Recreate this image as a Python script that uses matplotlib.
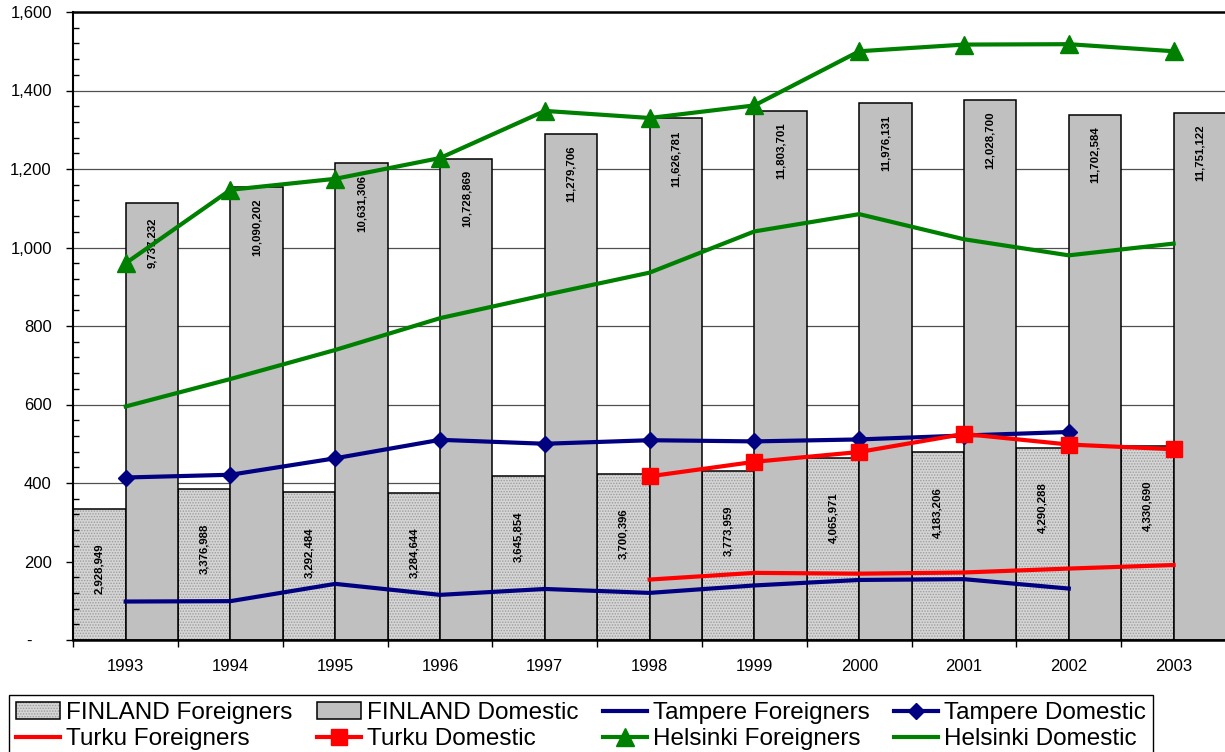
import numpy as np
import matplotlib
matplotlib.use("Agg")
import matplotlib.pyplot as plt
from matplotlib import font_manager
from matplotlib.ticker import MultipleLocator, FuncFormatter

nan = np.nan

# ---- data -------------------------------------------------------------
years = ["1993", "1994", "1995", "1996", "1997", "1998",
         "1999", "2000", "2001", "2002", "2003"]

finland_foreigners = [2928949, 3376988, 3292484, 3284644, 3645854, 3700396,
                      3773959, 4065971, 4183206, 4290288, 4330690]
finland_domestic = [9737232, 10090202, 10631306, 10728869, 11279706, 11626781,
                    11803701, 11976131, 12028700, 11702584, 11751122]

tampere_foreigners = [98, 99, 143, 115, 130, 120, 139, 153, 155, 131, nan]
tampere_domestic = [414, 421, 463, 510, 500, 509, 506, 511, 521, 530, nan]
turku_foreigners = [nan, nan, nan, nan, nan, 154, 171, 169, 172, 182, 191]
turku_domestic = [nan, nan, nan, nan, nan, 417, 454, 479, 525, 498, 486]
helsinki_foreigners = [960, 1147, 1175, 1228, 1348, 1330, 1362, 1500, 1517, 1518, 1500]
helsinki_domestic = [595, 665, 739, 820, 879, 936, 1041, 1085, 1021, 980, 1010]

# primary (city) scale and hidden secondary (country) scale
CITY_MAX = 1600
COUNTRY_MAX = 14_000_000


def pick_font(names, default="DejaVu Sans"):
    for name in names:
        try:
            font_manager.findfont(font_manager.FontProperties(family=name),
                                  fallback_to_default=False)
            return name
        except ValueError:
            continue
    return default


BASE_FONT = pick_font(["Liberation Sans", "Arial"])
NARROW_FONT = pick_font(["Liberation Sans Narrow", "Arial Narrow"], BASE_FONT)
narrow_size = 10 if NARROW_FONT != BASE_FONT else 8.2

plt.rcParams["font.family"] = [BASE_FONT, "DejaVu Sans"]
plt.rcParams["hatch.linewidth"] = 0.7

W, H = 1225, 752
fig = plt.figure(figsize=(W / 100, H / 100), dpi=100)
fig.patch.set_facecolor("white")

left, right, top, bottom = 73.3, 1226.0, 12.0, 640.0
ax = fig.add_axes([left / W, 1 - bottom / H, (right - left) / W, (bottom - top) / H])
ax_bar = ax.twinx()

# bars live on the lower axes, lines on the upper one
ax.set_zorder(2)
ax_bar.set_zorder(1)
ax.patch.set_visible(False)
ax_bar.patch.set_visible(True)
ax_bar.patch.set_facecolor("white")

x = np.arange(len(years))
n = len(years)

# ---- country bars -----------------------------------------------------
f_fill = ax_bar.bar(x - 0.25, finland_foreigners, width=0.5, color="#d5d5d5",
                    edgecolor="#9c9c9c", linewidth=0, hatch="......", zorder=2)
f_edge = ax_bar.bar(x - 0.25, finland_foreigners, width=0.5, fill=False,
                    edgecolor="black", linewidth=1.1, zorder=3)
d_bars = ax_bar.bar(x + 0.25, finland_domestic, width=0.5, color="#c0c0c0",
                    edgecolor="black", linewidth=1.1, zorder=3)

label_kw = dict(textcoords="offset points", rotation=90, ha="center",
                va="center", fontsize=narrow_size, family=NARROW_FONT,
                fontweight="bold", color="black", zorder=4)
for xi, v in zip(x, finland_foreigners):
    ax_bar.annotate(f"{v:,}", xy=(xi - 0.25, v), xytext=(0, -60 * 0.72), **label_kw)
for xi, v in zip(x, finland_domestic):
    ax_bar.annotate(f"{v:,}", xy=(xi + 0.25, v), xytext=(0, -40 * 0.72), **label_kw)

ax_bar.set_ylim(0, COUNTRY_MAX)
ax_bar.set_yticks(np.arange(200, CITY_MAX, 200) / CITY_MAX * COUNTRY_MAX)
ax_bar.set_axisbelow(True)
ax_bar.yaxis.grid(True, color="#505050", linewidth=0.9)
ax_bar.tick_params(axis="y", which="both", right=False, left=False,
                   labelright=False, labelleft=False, length=0)
for s in ax_bar.spines.values():
    s.set_visible(False)

# ---- city lines -------------------------------------------------------
NAVY, RED, GREEN = "#000080", "#ff0000", "#008000"
lw = 3.0
l_tf, = ax.plot(x, tampere_foreigners, color=NAVY, lw=lw)
l_td, = ax.plot(x, tampere_domestic, color=NAVY, lw=lw, marker="D", ms=8.3)
l_uf, = ax.plot(x, turku_foreigners, color=RED, lw=lw)
l_ud, = ax.plot(x, turku_domestic, color=RED, lw=lw, marker="s", ms=12)
l_hf, = ax.plot(x, helsinki_foreigners, color=GREEN, lw=lw, marker="^", ms=12.5)
l_hd, = ax.plot(x, helsinki_domestic, color=GREEN, lw=lw)

# ---- axes -------------------------------------------------------------
ax.set_xlim(-0.5, n - 0.5)
ax.set_ylim(0, CITY_MAX)
ax.yaxis.set_major_locator(MultipleLocator(200))
ax.yaxis.set_minor_locator(MultipleLocator(40))
ax.yaxis.set_major_formatter(FuncFormatter(lambda v, p: "-" if v == 0 else f"{v:,.0f}"))
ax.tick_params(axis="y", which="major", direction="out", length=5, width=1,
               labelsize=12, pad=10.5, right=False)
ax.tick_params(axis="y", which="minor", direction="in", length=4, width=1,
               right=False)

ax.set_xticks(x)
ax.set_xticklabels(years)
ax.set_xticks(np.arange(-0.5, n), minor=True)
ax.tick_params(axis="x", which="major", length=0, labelsize=12, pad=14)
ax.tick_params(axis="x", which="minor", direction="out", length=5, width=1)

ax.spines["left"].set_linewidth(1.5)
ax.spines["bottom"].set_linewidth(1.8)
ax.spines["top"].set_linewidth(1.8)
ax.spines["right"].set_visible(False)
for s in ("left", "bottom", "top"):
    ax.spines[s].set_color("black")

# ---- legend -----------------------------------------------------------
handles = [(f_fill.patches[0], f_edge.patches[0]), d_bars.patches[0],
           l_tf, l_td, l_uf, l_ud, l_hf, l_hd]
labels = ["FINLAND Foreigners", "FINLAND Domestic", "Tampere Foreigners",
          "Tampere Domestic", "Turku Foreigners", "Turku Domestic",
          "Helsinki Foreigners", "Helsinki Domestic"]
order = [0, 4, 1, 5, 2, 6, 3, 7]
leg = fig.legend([handles[i] for i in order], [labels[i] for i in order],
                 loc="upper left", bbox_to_anchor=(9 / W, 1 - 695 / H),
                 ncol=4, fontsize=17.5, frameon=True, fancybox=False,
                 edgecolor="black", framealpha=1, borderpad=0.3,
                 handlelength=1.81, handletextpad=0.25, columnspacing=1.0,
                 labelspacing=0.17, borderaxespad=0, numpoints=1)
leg.get_frame().set_linewidth(1.0)

# the zero label is shown as a dash, set further to the left
fig.canvas.draw()
ax_w_px = ax.get_window_extent().width
for tick in ax.yaxis.get_major_ticks():
    if tick.label1.get_text() == "-":
        tick.label1.set_x(-20.0 / ax_w_px)

fig.savefig("out.png", dpi=100, facecolor="white")
